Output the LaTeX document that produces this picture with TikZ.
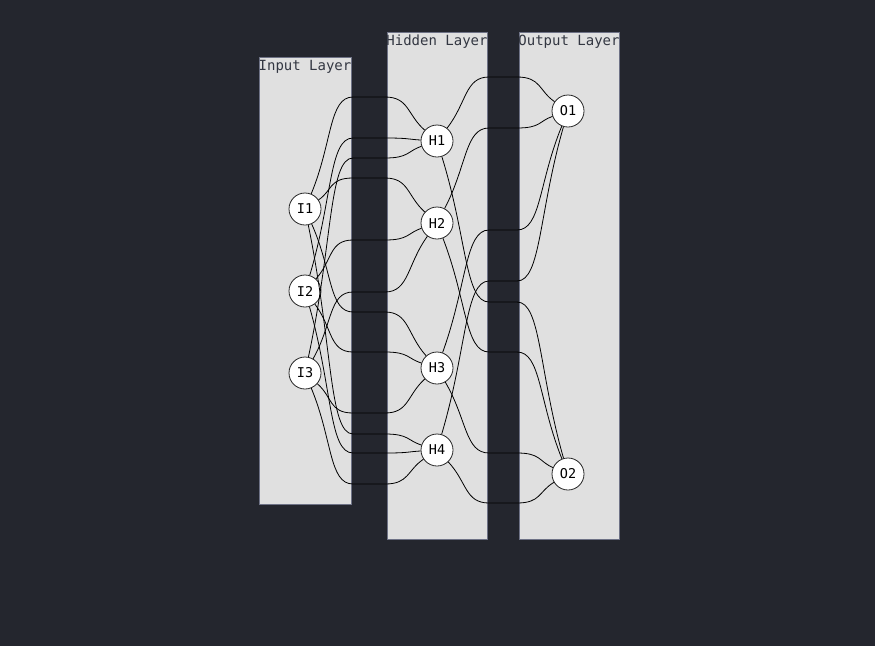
\documentclass[tikz,border=0pt]{standalone}
\usepackage{fontspec}
\setmonofont{DejaVu Sans Mono}
\usetikzlibrary{calc}
\definecolor{bgdark}{RGB}{36,38,46}
\definecolor{panelgray}{RGB}{224,224,224}
\definecolor{panelline}{RGB}{110,114,134}
\definecolor{labeltext}{RGB}{51,55,66}
\tikzset{
  layerbox/.style = {draw=panelline, fill=panelgray, line width=0.8pt},
  layerlabel/.style = {font=\ttfamily\fontsize{14}{14}\selectfont, text=labeltext, inner sep=0pt},
  neuron/.style = {circle, draw=black!85, fill=white, minimum size=32pt, inner sep=0pt, line width=0.8pt, font=\ttfamily\fontsize{13.5}{14}\selectfont},
  synapse/.style = {draw=black, line width=0.8pt}
}
% #1 source, #2 target, #3/#4 gap edges, #5 height in the gap
\newcommand{\synlink}[5]{%
  \draw[synapse] (#1) .. controls ($(#1)!0.6!(#3,#5)$) and (#3-22,#5) .. (#3+2,#5)
    -- (#4-2,#5) .. controls (#4+22,#5) and ($(#2)!0.6!(#4,#5)$) .. (#2);}

\begin{document}
\begin{tikzpicture}[x=1pt, y=-1pt]
  \fill[bgdark] (0,0) rectangle (875,646);
  \useasboundingbox (0,0) rectangle (875,646);

  % layers
  \draw[layerbox] (259,57) rectangle (351,504);
  \draw[layerbox] (387,32) rectangle (487,539);
  \draw[layerbox] (519,32) rectangle (619,539);
  \node[layerlabel] (inlabel) at (305,67) {Input Layer};
  \node[layerlabel] (hidlabel) at (437,42) {Hidden Layer};
  \node[layerlabel] (outlabel) at (569,42) {Output Layer};

  % neurons
  \node[neuron] (I1) at (305,209) {I1};
  \node[neuron] (I2) at (305,291) {I2};
  \node[neuron] (I3) at (305,373) {I3};
  \node[neuron] (H1) at (437,141) {H1};
  \node[neuron] (H2) at (437,223) {H2};
  \node[neuron] (H3) at (437,368) {H3};
  \node[neuron] (H4) at (437,450) {H4};
  \node[neuron] (O1) at (568,111) {O1};
  \node[neuron] (O2) at (568,474) {O2};

  % input -> hidden
  \foreach \src/\dst/\lev in {I1/H1/97, I2/H1/138, I3/H1/158, I1/H2/178,
      I2/H2/240, I3/H2/292, I1/H3/312, I2/H3/352, I3/H3/413,
      I1/H4/434, I2/H4/453, I3/H4/484}
    {\synlink{\src}{\dst}{351}{387}{\lev}}

  % hidden -> output
  \foreach \src/\dst/\lev in {H1/O1/77, H2/O1/128, H3/O1/230, H4/O1/281,
      H1/O2/302, H2/O2/352, H3/O2/453, H4/O2/503}
    {\synlink{\src}{\dst}{487}{519}{\lev}}
\end{tikzpicture}
\end{document}
